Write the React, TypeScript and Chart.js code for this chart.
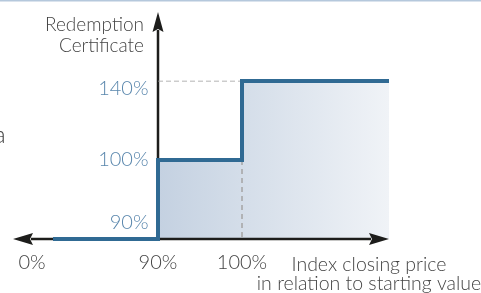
import { useEffect, useRef } from 'react';
import { Chart, registerables } from 'chart.js';

Chart.register(...registerables);

// Schematic index axis (ordinal slots), labelled only where the reference shows a tick
const xCategories = ['0%', '', '', '', '', '', '90%', '', '', '', '100%', '', '', '', '', '', '', ''];
// Redemption levels on the vertical axis, top to bottom
const yCategories = ['140%', '100%', '90%'];
// Index thresholds where the redemption steps up
const thresholds = ['90%', '100%'];
// Redemption amount below the first threshold, between thresholds, above the second
const redemptionLevels = ['90%', '100%', '140%'];
const yAxisTitle = ['Redemption', 'Certificate'];
const xAxisTitle = ['Index closing price', 'in relation to starting value'];
const clippedText = 'a';

const FONT = 'Lato, "Open Sans", sans-serif';
const STEP_COLOR = '#306a93';
const TICK_BLUE = '#5a87ad';
const TEXT_GREY = '#444444';
const AXIS_BLACK = '#1d1d1b';

const xi = (l: string) => xCategories.indexOf(l);
const yi = (l: string) => yCategories.indexOf(l);
const firstSlot = 1;
const lastSlot = xCategories.length - 1;

const stepPoints = [
  { x: firstSlot, y: yi(redemptionLevels[0]) },
  { x: xi(thresholds[0]), y: yi(redemptionLevels[0]) },
  { x: xi(thresholds[0]), y: yi(redemptionLevels[1]) },
  { x: xi(thresholds[1]), y: yi(redemptionLevels[1]) },
  { x: xi(thresholds[1]), y: yi(redemptionLevels[2]) },
  { x: lastSlot, y: yi(redemptionLevels[2]) },
];
const guideTop = [
  { x: xi(thresholds[0]), y: yi(redemptionLevels[2]) },
  { x: xi(thresholds[1]), y: yi(redemptionLevels[2]) },
];
const guideMid = [
  { x: xi(thresholds[1]), y: yi(redemptionLevels[1]) },
  { x: xi(thresholds[1]), y: yi(redemptionLevels[0]) },
];

const FILL_INDEX = 3;
// gap between the vertical axis and its tick labels, in category slots
const Y_LABEL_GAP = 0.45;

const axesPlugin = {
  id: 'schematicAxes',
  afterDatasetDraw(chart: any, args: any) {
    if (args.index !== FILL_INDEX) return;
    const { ctx, chartArea, scales } = chart;
    const ax = scales.x.getPixelForValue(thresholds[0]);
    const ay = scales.y.getPixelForValue(redemptionLevels[0]);
    const leftTip = chartArea.left - 19;
    const rightTip = chartArea.right;
    const topTip = chartArea.top - 69;
    const head = 20;
    const half = 5.5;
    ctx.save();
    ctx.strokeStyle = AXIS_BLACK;
    ctx.fillStyle = AXIS_BLACK;
    ctx.lineWidth = 2.5;
    ctx.beginPath();
    ctx.moveTo(leftTip + head - 2, ay);
    ctx.lineTo(rightTip - head + 2, ay);
    ctx.moveTo(ax, ay + 1);
    ctx.lineTo(ax, topTip + head - 2);
    ctx.stroke();
    // left arrow
    ctx.beginPath();
    ctx.moveTo(leftTip, ay);
    ctx.lineTo(leftTip + head, ay - half - 0.5);
    ctx.lineTo(leftTip + head - 3, ay);
    ctx.lineTo(leftTip + head, ay + half + 0.5);
    ctx.closePath();
    ctx.fill();
    // right arrow
    ctx.beginPath();
    ctx.moveTo(rightTip, ay);
    ctx.lineTo(rightTip - head, ay - half - 0.5);
    ctx.lineTo(rightTip - head + 3, ay);
    ctx.lineTo(rightTip - head, ay + half + 0.5);
    ctx.closePath();
    ctx.fill();
    // top arrow
    ctx.beginPath();
    ctx.moveTo(ax, topTip);
    ctx.lineTo(ax - half, topTip + head);
    ctx.lineTo(ax, topTip + head - 3);
    ctx.lineTo(ax + half, topTip + head);
    ctx.closePath();
    ctx.fill();
    ctx.restore();
  },
  afterDraw(chart: any) {
    const { ctx, chartArea, scales } = chart;
    const ax = scales.x.getPixelForValue(thresholds[0]);
    ctx.save();
    // thin rule along the top edge
    ctx.fillStyle = '#b5c8dc';
    ctx.fillRect(0, 0, chart.width, 1.5);
    ctx.fillStyle = TEXT_GREY;
    ctx.font = `300 19px ${FONT}`;
    ctx.textBaseline = 'alphabetic';
    ctx.textAlign = 'right';
    ctx.fillText(yAxisTitle[0], ax - 14, chartArea.top - 50);
    ctx.fillText(yAxisTitle[1], ax - 14, chartArea.top - 29);
    ctx.textAlign = 'center';
    ctx.font = `300 19.5px ${FONT}`;
    const cx = chartArea.right - 20;
    ctx.fillText(xAxisTitle[0], cx, chartArea.bottom + 32);
    ctx.fillText(xAxisTitle[1], cx, chartArea.bottom + 51);
    ctx.textAlign = 'left';
    ctx.font = `300 24px ${FONT}`;
    ctx.fillText(clippedText, -6, 143);
    ctx.restore();
  },
};

export default function App() {
  const ref = useRef<HTMLCanvasElement>(null);
  useEffect(() => {
    if (!ref.current) return;
    const gradientFill = (c: any) => {
      const chart = c.chart;
      const { chartArea } = chart;
      if (!chartArea) return 'rgba(0,0,0,0)';
      const x0 = chart.scales.x.getPixelForValue(thresholds[0]);
      const g = chart.ctx.createLinearGradient(x0, 0, chartArea.right, 0);
      g.addColorStop(0, '#c4d1e1');
      g.addColorStop(1, '#f0f3f7');
      return g;
    };
    const chart = new Chart(ref.current, {
      type: 'line',
      data: {
        labels: xCategories,
        datasets: [
          {
            data: stepPoints,
            borderColor: STEP_COLOR,
            borderWidth: 4,
            borderCapStyle: 'butt',
            borderJoinStyle: 'miter',
            pointRadius: 0,
            fill: false,
            order: 0,
          },
          {
            data: guideTop,
            borderColor: '#9a9a9a',
            borderWidth: 1.2,
            borderDash: [5, 3],
            pointRadius: 0,
            fill: false,
            order: 1,
          },
          {
            data: guideMid,
            borderColor: '#a8a8a8',
            borderWidth: 1.6,
            borderDash: [5, 4],
            pointRadius: 0,
            fill: false,
            order: 1,
          },
          {
            data: stepPoints,
            borderWidth: 0,
            borderColor: 'rgba(0,0,0,0)',
            backgroundColor: gradientFill,
            pointRadius: 0,
            fill: 'start',
            order: 5,
          },
        ],
      } as any,
      options: {
        animation: false,
        responsive: false,
        parsing: false,
        normalized: true,
        events: [],
        layout: { padding: { left: 32, right: 92, top: 81, bottom: 6 } },
        plugins: { legend: { display: false }, tooltip: { enabled: false }, title: { display: false } },
        scales: {
          x: {
            type: 'category',
            labels: xCategories,
            offset: false,
            grid: { display: false, drawTicks: false },
            border: { display: false },
            ticks: {
              autoSkip: false,
              maxRotation: 0,
              padding: 12,
              color: TEXT_GREY,
              font: { family: FONT, size: 20, weight: '300', lineHeight: 1.2 },
            },
          },
          y: {
            type: 'category',
            labels: yCategories,
            offset: false,
            position: { x: xi(thresholds[0]) - Y_LABEL_GAP },
            grid: { display: false, drawTicks: false },
            border: { display: false },
            ticks: {
              autoSkip: false,
              padding: 0,
              color: TICK_BLUE,
              font: { family: FONT, size: 20, weight: '300', lineHeight: 0.8 },
              callback: (_v: any, i: number) => {
                const label = yCategories[i];
                if (label === redemptionLevels[2]) return ['', label];
                if (label === redemptionLevels[0]) return [label, '', ''];
                return label;
              },
            },
          },
        },
      } as any,
      plugins: [axesPlugin],
    });
    return () => chart.destroy();
  }, []);
  return (
    <div style={{ position: 'fixed', left: 0, top: 0, width: 481, height: 293, background: '#fff' }}>
      <canvas ref={ref} width={481} height={293} style={{ display: 'block' }} />
    </div>
  );
}
